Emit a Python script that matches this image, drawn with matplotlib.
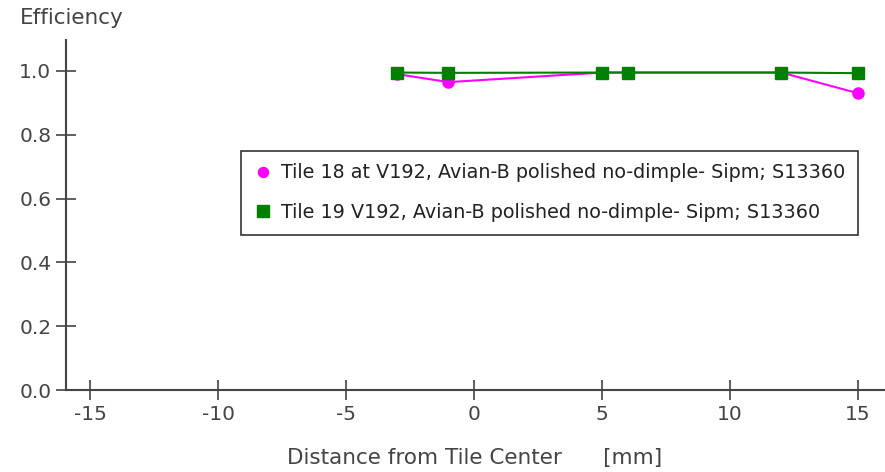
import matplotlib
matplotlib.use("Agg")
import matplotlib.pyplot as plt

x18 = [-3, -1, 5, 6, 12, 15]
y18 = [0.990, 0.965, 0.995, 0.995, 0.995, 0.930]
x19 = [-3, -1, 5, 6, 12, 15]
y19 = [0.995, 0.994, 0.995, 0.995, 0.995, 0.993]
label18 = "Tile 18 at V192, Avian-B polished no-dimple- Sipm; S13360"
label19 = "Tile 19 V192, Avian-B polished no-dimple- Sipm; S13360"
xticks = [-15, -10, -5, 0, 5, 10, 15]
yticks = [0.0, 0.2, 0.4, 0.6, 0.8, 1.0]

plt.rcParams['font.family'] = ['DejaVu Sans']

fig = plt.figure(figsize=(8.85, 4.72), dpi=100)
W, H = 885, 472
ax = fig.add_axes([66 / W, (H - 390) / H, (885 - 66) / W, (390 - 40) / H])

ax.plot(x18, y18, color='#ff00ff', marker='o', markersize=8, linewidth=1.5, label=label18, zorder=3)
ax.plot(x19, y19, color='#008000', marker='s', markersize=9, linewidth=1.5, label=label19, zorder=4)

ax.set_xlim(-15.94, 16.05)
ax.set_ylim(0, 1.097)
ax.set_xticks(xticks)
ax.set_xticklabels([str(t) for t in xticks])
ax.set_yticks(yticks)
ax.set_yticklabels([f"{t:.1f}" for t in yticks])

for s in ['top', 'right']:
    ax.spines[s].set_visible(False)
for s in ['left', 'bottom']:
    ax.spines[s].set_color('#444444')
    ax.spines[s].set_linewidth(1.5)

ax.tick_params(axis='both', direction='inout', length=15, width=1.2, color='#444444',
               labelsize=14.5, labelcolor='#444444', pad=3)

fig.text(20 / W, 1 - 18 / H, "Efficiency", fontsize=15.5, color='#444444', ha='left', va='center')
fig.text(475 / W, 1 - 458 / H, "Distance from Tile Center      [mm]", fontsize=15.5, color='#444444',
         ha='center', va='center')

leg = ax.legend(loc='upper left', bbox_to_anchor=((241 - 66) / (885 - 66), (390 - 151) / 350),
                frameon=True, fancybox=False, fontsize=13.8, handlelength=1.0, handletextpad=0.45,
                borderpad=0.65, labelspacing=1.08, borderaxespad=0, markerscale=0.9)
leg.get_frame().set_edgecolor('black')
leg.get_frame().set_linewidth(1.2)
for t in leg.get_texts():
    t.set_color('#222222')
for h in leg.legend_handles:
    h.set_linestyle('None')

fig.savefig("out.png", dpi=100)
